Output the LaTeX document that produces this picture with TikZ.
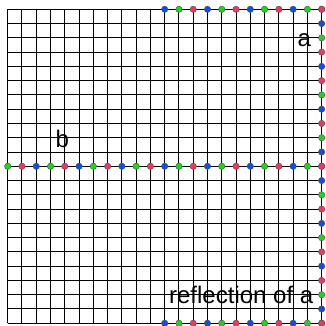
\documentclass[tikz,border=0pt]{standalone}
\usepackage{fontspec}
\setmainfont{Liberation Sans}
\definecolor{dot0}{RGB}{20,220,20}
\definecolor{dot1}{RGB}{250,50,95}
\definecolor{dot2}{RGB}{10,80,240}
\tikzset{
  gridline/.style={black, line width=1pt},
  marker/.style={draw=black!70, line width=0.4pt},
  lbl/.style={font=\fontsize{24}{24}\selectfont, inner sep=0pt, anchor=base west}
}
\begin{document}
\begin{tikzpicture}[x=14.27pt,y=-14.27pt]
  \useasboundingbox (-7.7pt,9.3pt) rectangle (317.3pt,-316.7pt);
  % grid
  \foreach \i in {0,...,22} {
    \draw[gridline] (\i,0) -- (\i,22);
    \draw[gridline] (0,\i) -- (22,\i);
  }
  % labels
  \node[lbl] (la) at (20.3,2.64) {a};
  \node[lbl] (lb) at (3.35,9.65) {b};
  \node[lbl] (lr) at (11.3,20.65) {reflection of a};
  % top and bottom edges
  \foreach \c in {11,...,22} {
    \pgfmathtruncatemacro\k{mod(\c,3)}
    \filldraw[marker, fill=dot\k] (\c,0) circle (3.2pt);
    \filldraw[marker, fill=dot\k] (\c,22) circle (3.2pt);
  }
  % middle row
  \foreach \c in {0,...,22} {
    \pgfmathtruncatemacro\k{mod(\c,3)}
    \filldraw[marker, fill=dot\k] (\c,11) circle (3.2pt);
  }
  % right edge
  \foreach \r/\k in {0/1,1/2,2/0,3/1,4/2,5/1,6/0,7/2,8/1,9/0,10/2,11/1,
                     12/2,13/0,14/1,15/2,16/0,17/1,18/2,19/1,20/0,21/2,22/1} {
    \filldraw[marker, fill=dot\k] (22,\r) circle (3.2pt);
  }
\end{tikzpicture}
\end{document}
